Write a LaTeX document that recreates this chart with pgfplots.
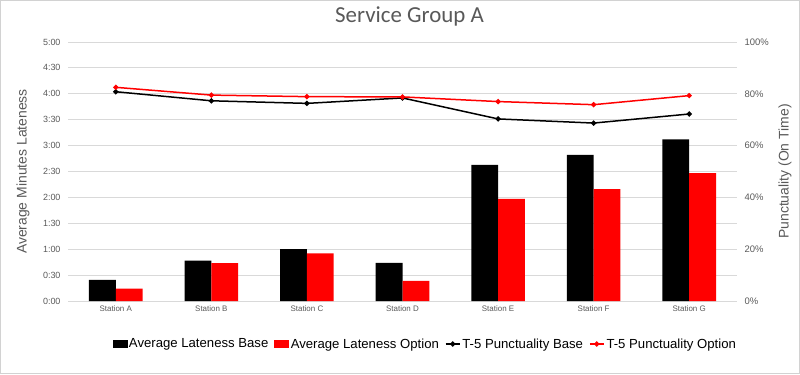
\documentclass[border=0pt]{standalone}
\usepackage{fontspec}
\setmainfont{Liberation Sans}
\newfontfamily\titlefont{Carlito}
\usepackage{pgfplots}
\pgfplotsset{compat=1.18}
\definecolor{txtgray}{HTML}{595959}
\definecolor{gridgray}{HTML}{D9D9D9}
\definecolor{barred}{HTML}{FF0000}
\begin{document}
\begin{tikzpicture}[x=1bp,y=1bp]
\useasboundingbox (0,0) rectangle (800,374);
\draw[gray!35, line width=0.8bp] (0.4,0.4) rectangle (799.6,373.6);
\begin{axis}[
  at={(68bp,73bp)}, anchor=south west,
  scale only axis, width=669bp, height=259bp,
  xmin=-0.5, xmax=6.5, ymin=0, ymax=5,
  xtick={0,...,6},
  xticklabels={Station A,Station B,Station C,Station D,Station E,Station F,Station G},
  ytick={0,0.5,1,1.5,2,2.5,3,3.5,4,4.5,5},
  yticklabels={0:00,0:30,1:00,1:30,2:00,2:30,3:00,3:30,4:00,4:30,5:00},
  ymajorgrids, grid style={gridgray, line width=0.9bp},
  axis line style={draw=none},
  major tick length=0pt,
  yticklabel style={font=\fontsize{9}{10}\selectfont, text=txtgray, anchor=east, xshift=-4bp},
  xticklabel style={font=\fontsize{8}{9}\selectfont, text=txtgray, yshift=-1bp},
  ylabel={Average Minutes Lateness},
  ylabel style={at={(axis description cs:-0.0673,0.5)}, anchor=center, font=\fontsize{14}{16}\selectfont, text=txtgray},
  title={\titlefont Service Group A},
  title style={at={(axis description cs:0.5105,1.077)}, anchor=center, font=\fontsize{23}{26}\selectfont, text=txtgray},
]
\addplot[ybar, bar width=26.8bp, bar shift=-13.4bp, fill=black, draw=none]
  coordinates {(0,0.41) (1,0.78) (2,1.00) (3,0.735) (4,2.63) (5,2.82) (6,3.12)};
\addplot[ybar, bar width=26.8bp, bar shift=13.4bp, fill=barred, draw=none]
  coordinates {(0,0.24) (1,0.73) (2,0.92) (3,0.39) (4,1.97) (5,2.16) (6,2.47)};
\end{axis}
\begin{axis}[
  at={(68bp,73bp)}, anchor=south west,
  scale only axis, width=669bp, height=259bp,
  xmin=-0.5, xmax=6.5, ymin=0, ymax=100,
  axis y line*=right, axis x line=none,
  axis line style={draw=none},
  major tick length=0pt,
  xtick=\empty,
  ytick={0,20,40,60,80,100},
  yticklabels={0\%,20\%,40\%,60\%,80\%,100\%},
  yticklabel style={font=\fontsize{9.5}{10}\selectfont, text=txtgray, anchor=west, xshift=4bp},
  ylabel={Punctuality (On Time)},
  ylabel style={at={(axis description cs:1.0717,0.5)}, anchor=center, font=\fontsize{14}{16}\selectfont, text=txtgray},
  legend columns=4,
  legend style={at={(axis description cs:0.534,-0.166)}, anchor=center, draw=none, fill=none,
    font=\fontsize{13.2}{15}\selectfont, inner sep=0pt,
    /tikz/every even column/.append style={column sep=4bp}},
  legend cell align=left,
]
\addlegendimage{legend image code/.code={\fill[black] (0bp,-3.5bp) rectangle (14bp,4bp);}}
\addlegendentry{Average Lateness Base}
\addlegendimage{legend image code/.code={\fill[barred] (0bp,-3.5bp) rectangle (14bp,4bp);}}
\addlegendentry{Average Lateness Option}
\addplot[black, line width=1.5bp, mark=*, mark size=1.8bp,
  legend image code/.code={\draw[black, line width=1.5bp] (0bp,0bp) -- (14bp,0bp); \fill[black] (7bp,0bp) circle (1.8bp);}]
  coordinates {(0,80.8) (1,77.3) (2,76.3) (3,78.4) (4,70.3) (5,68.7) (6,72.2)};
\addlegendentry{T-5 Punctuality Base}
\addplot[barred, line width=1.5bp, mark=*, mark size=1.8bp,
  legend image code/.code={\draw[barred, line width=1.5bp] (0bp,0bp) -- (14bp,0bp); \fill[barred] (7bp,0bp) circle (1.8bp);}]
  coordinates {(0,82.5) (1,79.5) (2,78.9) (3,78.8) (4,77.0) (5,75.8) (6,79.3)};
\addlegendentry{T-5 Punctuality Option}
\end{axis}
\end{tikzpicture}
\end{document}
